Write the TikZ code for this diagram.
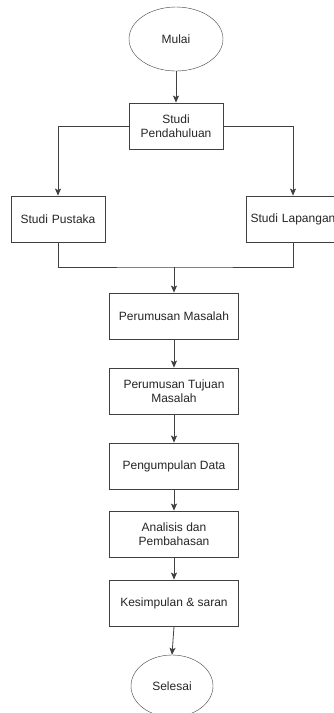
\documentclass[tikz,border=0pt]{standalone}
\usepackage{fontspec}
\setmainfont{Liberation Sans}
\usetikzlibrary{shapes.geometric,arrows.meta}

\begin{document}
\begin{tikzpicture}[x=1pt,y=-1pt,
	font=\fontsize{12}{14.5}\selectfont,
	every node/.style={text=black!85},
	proses/.style={draw=black!75,thick,rectangle,minimum width=129pt,minimum height=46pt,align=center,inner sep=2pt},
	kecil/.style={proses,minimum width=93pt,text width=90pt},
	terminal/.style={draw=black!75,ellipse,minimum width=94pt,minimum height=64pt},
	panah/.style={draw=black!75,thick,-{Stealth[length=7pt,width=6pt,inset=1.5pt]}},
	garis/.style={draw=black!75,thick}]
	\useasboundingbox (0,0) rectangle (334,713);
	\fill[white] (0,0) rectangle (334,713);
	\node[terminal] (mulai) at (176,39) {Mulai};
	\node[kecil] (pendahuluan) at (176,126) {Studi\\Pendahuluan};
	\node[kecil] (pustaka) at (58,219) {Studi Pustaka};
	\node[kecil] (lapangan) at (293,219) {Studi Lapangan};
	\coordinate (gabung) at (174,267);
	\node[proses] (masalah) at (174,316) {Perumusan Masalah};
	\node[proses] (tujuan) at (174,391) {Perumusan Tujuan\\Masalah};
	\node[proses] (data) at (174,466) {Pengumpulan Data};
	\node[proses] (analisis) at (174,534) {Analisis dan\\Pembahasan};
	\node[proses] (simpulan) at (174,603) {Kesimpulan \& saran};
	\node[terminal,minimum width=82pt,minimum height=62pt] (selesai) at (172,686) {Selesai};
	\draw[panah] (mulai) -- (pendahuluan);
	\draw[panah] (pendahuluan.west) -| (pustaka.north);
	\draw[panah] (pendahuluan.east) -| (lapangan.north);
	\draw[garis] (pustaka.south) |- (gabung) -| (lapangan.south);
	\draw[panah] (gabung) -- (masalah);
	\draw[panah] (masalah) -- (tujuan);
	\draw[panah] (tujuan) -- (data);
	\draw[panah] (data) -- (analisis);
	\draw[panah] (analisis) -- (simpulan);
	\draw[panah] (simpulan.south) -- (selesai.north);
\end{tikzpicture}
\end{document}
